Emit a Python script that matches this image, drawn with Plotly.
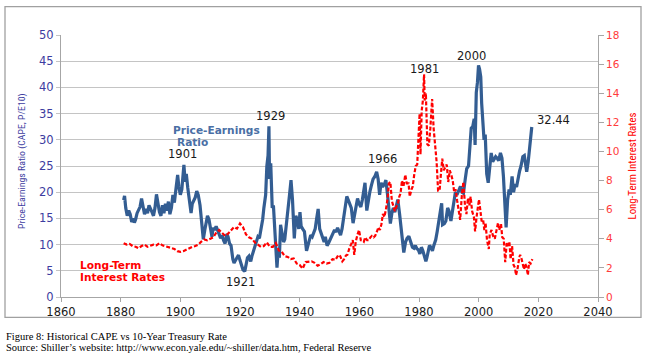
import plotly.graph_objects as go

# ---- data ----
cape_years = [
    1881.0, 1881.3, 1881.7, 1882.2, 1882.7, 1883.2, 1883.7, 1884.2, 1884.6, 1885.0,
    1885.5, 1886.0, 1886.5, 1887.0, 1887.5, 1888.0, 1888.5, 1889.0, 1889.5, 1890.0,
    1890.5, 1891.0, 1891.5, 1892.0, 1892.5, 1893.0, 1893.5, 1894.0, 1894.5, 1895.0,
    1895.5, 1896.0, 1896.5, 1897.0, 1897.5, 1898.0, 1898.5, 1899.1, 1899.5, 1900.0,
    1900.5, 1901.2, 1901.6, 1902.0, 1902.5, 1903.0, 1903.6, 1904.0, 1904.5, 1905.0,
    1905.5, 1906.0, 1906.6, 1907.2, 1907.7, 1908.2, 1908.7, 1909.1, 1909.6, 1910.1,
    1910.6, 1911.0, 1911.5, 1912.0, 1912.6, 1913.0, 1913.5, 1914.0, 1914.5, 1915.0,
    1915.6, 1916.0, 1916.5, 1917.0, 1917.6, 1918.0, 1918.5, 1919.0, 1919.5, 1920.0,
    1920.5, 1921.0, 1921.6, 1922.0, 1922.5, 1923.0, 1923.6, 1924.0, 1924.6, 1925.0,
    1925.6, 1926.0, 1926.5, 1927.0, 1927.6, 1928.0, 1928.6, 1929.0, 1929.4, 1929.7,
    1929.9, 1930.3, 1930.8, 1931.2, 1931.7, 1932.4, 1932.8, 1933.2, 1933.6, 1934.0,
    1934.6, 1935.0, 1935.6, 1936.0, 1936.6, 1937.1, 1937.6, 1938.2, 1938.7, 1939.2,
    1939.7, 1940.1, 1940.5, 1941.0, 1941.6, 1942.3, 1942.8, 1943.2, 1943.7, 1944.2,
    1944.7, 1945.2, 1945.7, 1946.2, 1946.7, 1947.2, 1947.7, 1948.2, 1948.6, 1949.2,
    1949.7, 1950.2, 1950.7, 1951.2, 1951.7, 1952.2, 1952.7, 1953.2, 1953.7, 1954.2,
    1954.7, 1955.2, 1955.8, 1956.3, 1956.8, 1957.3, 1957.9, 1958.4, 1958.9, 1959.4,
    1959.9, 1960.5, 1961.0, 1961.9, 1962.5, 1963.0, 1963.5, 1964.0, 1964.6, 1965.2,
    1965.8, 1966.3, 1966.8, 1967.3, 1967.8, 1968.4, 1968.9, 1969.4, 1970.0, 1970.4,
    1970.9, 1971.4, 1971.9, 1972.5, 1972.9, 1973.5, 1973.9, 1974.4, 1974.9, 1975.5,
    1976.0, 1976.6, 1977.2, 1977.8, 1978.3, 1978.8, 1979.3, 1979.8, 1980.3, 1980.8,
    1981.3, 1981.8, 1982.3, 1982.6, 1983.0, 1983.5, 1984.0, 1984.5, 1985.0, 1985.6,
    1986.1, 1986.6, 1987.2, 1987.6, 1987.9, 1988.5, 1989.0, 1989.6, 1990.0, 1990.7,
    1991.2, 1991.7, 1992.2, 1992.7, 1993.3, 1993.9, 1994.4, 1994.9, 1995.5, 1996.0,
    1996.6, 1997.0, 1997.5, 1998.0, 1998.5, 1998.8, 1999.2, 1999.6, 1999.95, 2000.3,
    2000.7, 2001.0, 2001.4, 2001.8, 2002.2, 2002.7, 2003.2, 2003.7, 2004.2, 2004.7,
    2005.2, 2005.7, 2006.2, 2006.7, 2007.3, 2007.8, 2008.3, 2008.8, 2009.2, 2009.7,
    2010.2, 2010.6, 2011.2, 2011.7, 2012.2, 2012.7, 2013.2, 2013.7, 2014.2, 2014.8,
    2015.3, 2015.7, 2016.1, 2016.6, 2017.0, 2017.5, 2017.8,
]
cape_values = [
    18.5, 19.3, 17.0, 15.5, 16.5, 15.8, 14.3, 15.0, 14.2, 14.8,
    16.0, 16.5, 17.2, 18.8, 16.8, 15.8, 16.8, 16.0, 17.5, 17.0,
    16.2, 15.5, 17.0, 19.6, 17.8, 16.2, 15.5, 17.5, 16.0, 17.8,
    16.5, 18.2, 15.8, 17.0, 19.5, 18.0, 20.5, 23.3, 21.0, 19.5,
    20.5, 25.2, 22.0, 23.5, 20.8, 19.0, 16.0, 17.8, 18.5, 19.0,
    20.2, 19.5, 17.5, 14.2, 11.0, 12.8, 14.5, 15.5, 14.8, 13.5,
    11.5, 13.2, 12.8, 13.5, 12.8, 12.0, 11.2, 11.8, 10.8, 10.2,
    12.0, 11.5, 10.2, 9.8, 7.2, 6.5, 7.0, 7.4, 8.0, 7.0,
    5.8, 5.2, 4.9, 6.2, 7.5, 7.8, 6.8, 7.8, 8.8, 9.8,
    10.8, 11.5, 11.2, 12.8, 14.8, 17.0, 19.5, 25.0, 27.0, 32.6,
    22.5, 25.5, 17.0, 17.5, 12.0, 5.6, 9.0, 7.5, 13.8, 12.5,
    10.5, 11.0, 14.5, 17.5, 19.5, 22.3, 18.5, 11.2, 15.5, 14.8,
    13.0, 16.2, 13.5, 13.0, 12.5, 8.8, 9.8, 11.0, 11.8, 11.5,
    12.5, 13.0, 15.0, 16.8, 13.0, 12.0, 11.5, 10.5, 11.5, 9.8,
    10.3, 11.0, 11.8, 12.5, 12.8, 12.4, 13.2, 12.5, 11.8, 13.0,
    15.0, 17.0, 19.2, 18.5, 17.8, 17.0, 14.1, 15.5, 17.5, 18.8,
    17.8, 17.2, 18.5, 21.8, 16.5, 18.8, 20.0, 21.2, 22.5, 23.0,
    23.9, 22.5, 19.5, 21.8, 21.0, 21.5, 22.3, 19.8, 16.8, 14.0,
    16.0, 17.0, 16.2, 17.8, 18.6, 15.8, 14.0, 11.2, 8.5, 10.5,
    11.2, 11.6, 10.5, 9.5, 9.3, 9.8, 9.2, 9.0, 8.2, 9.5,
    8.8, 7.6, 6.8, 7.4, 8.8, 9.8, 9.5, 8.8, 9.9, 10.9,
    12.5, 14.0, 16.5, 17.9, 13.8, 14.0, 14.5, 17.0, 16.5, 14.5,
    16.5, 17.5, 20.0, 19.5, 20.5, 21.1, 20.0, 19.8, 22.5, 24.5,
    25.0, 28.0, 32.2, 32.5, 34.0, 29.0, 39.0, 41.0, 44.2, 43.5,
    42.0, 37.0, 33.5, 30.0, 31.0, 23.5, 21.8, 25.5, 27.5, 25.8,
    26.5, 26.8, 26.5, 26.0, 27.5, 26.5, 23.0, 16.0, 13.3, 18.5,
    20.5, 19.5, 23.0, 20.0, 21.5, 21.0, 23.0, 24.0, 25.0, 26.8,
    27.0, 25.0, 23.9, 25.8, 28.0, 30.0, 32.44,
]

rate_years = [
    1881, 1882, 1883, 1884, 1885, 1886, 1887, 1888, 1889, 1890,
    1891, 1892, 1893, 1894, 1895, 1896, 1897, 1898, 1899, 1900,
    1901, 1902, 1903, 1904, 1905, 1906, 1907, 1908, 1909, 1910,
    1911, 1912, 1913, 1914, 1915, 1916, 1917, 1918, 1919, 1920,
    1921, 1922, 1923, 1924, 1925, 1926, 1927, 1928, 1929, 1930,
    1931, 1932, 1933, 1934, 1935, 1936, 1937, 1938, 1939, 1940,
    1941, 1942, 1943, 1944, 1945, 1946, 1947, 1948, 1949, 1950,
    1951, 1952, 1953, 1953.6, 1954.3, 1954.9, 1955.5, 1956.0, 1956.6, 1957.2,
    1957.8, 1958.3, 1958.8, 1959.4, 1959.9, 1960.5, 1961.0, 1961.5, 1962.0, 1962.6,
    1963.2, 1963.7, 1964.2, 1964.8, 1965.3, 1965.9, 1966.4, 1966.9, 1967.4, 1967.9,
    1968.4, 1968.9, 1969.5, 1969.9, 1970.4, 1970.9, 1971.4, 1971.9, 1972.4, 1972.9,
    1973.4, 1973.8, 1974.3, 1974.8, 1975.4, 1975.9, 1976.5, 1976.9, 1977.5, 1977.9,
    1978.4, 1978.9, 1979.4, 1979.8, 1980.2, 1980.5, 1980.9, 1981.3, 1981.7, 1981.9,
    1982.3, 1982.8, 1983.3, 1983.8, 1984.4, 1984.9, 1985.4, 1985.9, 1986.4, 1986.9,
    1987.4, 1987.8, 1988.3, 1988.8, 1989.3, 1989.8, 1990.3, 1990.8, 1991.3, 1991.8,
    1992.3, 1992.8, 1993.3, 1993.8, 1994.4, 1994.9, 1995.4, 1995.9, 1996.4, 1996.9,
    1997.3, 1997.8, 1998.4, 1998.8, 1999.3, 1999.9, 2000.1, 2000.6, 2001.0, 2001.5,
    2001.9, 2002.3, 2002.8, 2003.4, 2003.7, 2004.3, 2004.8, 2005.4, 2005.9, 2006.5,
    2006.9, 2007.5, 2007.9, 2008.4, 2008.9, 2009.4, 2009.9, 2010.3, 2010.7, 2011.2,
    2011.7, 2012.2, 2012.5, 2013.0, 2013.6, 2013.9, 2014.4, 2014.9, 2015.2, 2015.6,
    2016.1, 2016.5, 2016.9, 2017.4, 2017.8, 2018.0,
]
rate_values = [
    3.7, 3.6, 3.65, 3.5, 3.45, 3.35, 3.5, 3.6, 3.45, 3.55,
    3.6, 3.55, 3.7, 3.55, 3.5, 3.45, 3.35, 3.3, 3.15, 3.1,
    3.15, 3.25, 3.4, 3.45, 3.5, 3.6, 3.8, 3.95, 3.9, 4.0,
    4.1, 4.4, 4.6, 4.4, 4.2, 4.35, 4.6, 4.8, 4.7, 5.05,
    4.8, 4.3, 4.1, 4.0, 3.75, 3.6, 3.45, 3.5, 3.75, 3.45,
    3.45, 3.7, 3.2, 3.1, 2.8, 2.75, 2.6, 2.65, 2.3, 2.2,
    1.95, 2.4, 2.45, 2.45, 2.35, 2.15, 2.25, 2.4, 2.3, 2.35,
    2.6, 2.55, 2.9, 2.8, 2.45, 2.6, 2.85, 2.9, 3.3, 3.6,
    3.9, 2.9, 3.8, 4.3, 4.6, 3.9, 3.9, 3.8, 4.1, 3.9,
    3.9, 4.1, 4.2, 4.1, 4.2, 4.5, 4.8, 4.6, 5.0, 5.7,
    5.5, 6.0, 6.8, 7.8, 7.9, 6.6, 6.3, 5.9, 6.2, 6.4,
    6.9, 7.1, 8.0, 7.6, 8.4, 7.8, 7.8, 6.9, 7.4, 7.6,
    8.4, 9.0, 9.1, 10.6, 12.6, 9.8, 12.8, 13.5, 15.3, 13.5,
    14.0, 10.5, 10.4, 11.6, 13.6, 11.6, 10.5, 9.3, 7.3, 7.3,
    8.6, 9.5, 8.7, 8.9, 9.1, 7.9, 8.7, 8.4, 8.0, 7.2,
    7.4, 6.6, 5.9, 5.3, 7.1, 7.9, 6.3, 5.7, 6.8, 6.3,
    6.9, 5.9, 5.5, 4.5, 5.5, 6.3, 6.7, 5.9, 5.2, 5.3,
    4.6, 5.1, 3.9, 3.3, 4.3, 4.6, 4.2, 4.0, 4.5, 5.1,
    4.6, 5.0, 4.1, 4.0, 2.4, 3.7, 3.5, 3.8, 2.6, 3.5,
    2.2, 2.0, 1.5, 1.9, 2.7, 2.9, 2.6, 2.2, 1.9, 2.3,
    2.0, 1.5, 2.4, 2.3, 2.5, 2.6,
]

year_labels = ["1901", "1929", "1921", "1966", "1981", "2000", "32.44"]

# ---- layout geometry (pixels) ----
W, H = 663, 359
L, R, T, B = 61, 598, 34.5, 297.5


def px(x):
    return (x - L) / (R - L)


def py(y):
    return (B - y) / (B - T)


BLUE = "#335d92"
RED = "#ff0000"
TICKFONT = "DejaVu Sans, Verdana, sans-serif"
NARROW = "Liberation Sans Narrow, Arial Narrow, Roboto Condensed, Liberation Sans, sans-serif"

fig = go.Figure()
fig.add_trace(go.Scatter(x=rate_years, y=rate_values, yaxis="y2", mode="lines",
                         line=dict(color=RED, width=2.2, dash="4px,2px"),
                         name="Long-Term Interest Rates", showlegend=False))
fig.add_trace(go.Scatter(x=cape_years, y=cape_values, mode="lines",
                         line=dict(color=BLUE, width=3.2),
                         name="Price-Earnings Ratio", showlegend=False))

annos = []
# peak / trough labels
lab_pos = [(182, 154), (270, 116), (240.5, 282), (382, 159), (424, 68.5), (471.5, 56), (553.5, 120)]
for t, (x, y) in zip(year_labels, lab_pos):
    annos.append(dict(x=px(x), y=py(y), xref="paper", yref="paper", text=t, showarrow=False,
                      xanchor="center", yanchor="middle",
                      font=dict(family=TICKFONT, size=11.5, color="#1a1a1a")))
# series labels
annos += [
    dict(x=px(216.5), y=py(130), text="<b>Price-Earnings</b>", xanchor="center",
         font=dict(family=TICKFONT, size=10.6, color="#4a6fa5")),
    dict(x=px(192.5), y=py(142), text="<b>Ratio</b>", xanchor="center",
         font=dict(family=TICKFONT, size=10.6, color="#4a6fa5")),
    dict(x=px(78), y=py(265), text="<b>Long-Term</b>", xanchor="left",
         font=dict(family=TICKFONT, size=10.6, color=RED)),
    dict(x=px(78), y=py(277.5), text="<b>Interest Rates</b>", xanchor="left",
         font=dict(family=TICKFONT, size=10.6, color=RED)),
    # axis titles
    dict(x=px(22), y=py(161), text="Price-Earnings Ratio (CAPE, P/E10)", textangle=-90,
         xanchor="center", font=dict(family=NARROW, size=9.8, color="#3c3ca0")),
    dict(x=px(632), y=py(166.5), text="Long-Term Interest Rates", textangle=-90,
         xanchor="center", font=dict(family=NARROW, size=10.8, color=RED)),
    # caption
    dict(x=px(4), y=py(337.5), text="Figure 8: Historical CAPE vs 10-Year Treasury Rate",
         xanchor="left", font=dict(family="Liberation Serif, Times New Roman, serif", size=10.5, color="black")),
    dict(x=px(4), y=py(348.5),
         text="Source: Shiller\u2019s website: http://www.econ.yale.edu/~shiller/data.htm, Federal Reserve",
         xanchor="left", font=dict(family="Liberation Serif, Times New Roman, serif", size=10.5, color="black")),
]
for a in annos:
    a.setdefault("xref", "paper")
    a.setdefault("yref", "paper")
    a.setdefault("showarrow", False)
    a.setdefault("yanchor", "middle")

fig.update_layout(
    width=W, height=H,
    margin=dict(l=L, r=W - R, t=T, b=H - B),
    paper_bgcolor="white", plot_bgcolor="white",
    annotations=annos,
    xaxis=dict(range=[1860, 2040], tick0=1860, dtick=20, showgrid=False, zeroline=False,
               showline=True, linecolor="#a6a6a6", linewidth=1,
               ticks="outside", ticklen=4, tickcolor="#a6a6a6",
               tickfont=dict(family=TICKFONT, size=11.5, color="#1a1a1a")),
    yaxis=dict(range=[0, 50], dtick=5, showgrid=True, gridcolor="#c4c4c4", gridwidth=1,
               zeroline=False, showline=True, linecolor="#a6a6a6", linewidth=1,
               ticks="outside", ticklen=4, tickcolor="#c4c4c4",
               tickfont=dict(family=TICKFONT, size=11.5, color="#3c3ca0")),
    yaxis2=dict(range=[0, 18], dtick=2, overlaying="y", side="right", showgrid=False,
                zeroline=False, showline=True, linecolor="#a6a6a6", linewidth=1,
                ticks="outside", ticklen=5, tickcolor="#a6a6a6",
                tickfont=dict(family=TICKFONT, size=10.5, color="#ff3b3b")),
    shapes=[dict(type="rect", xref="paper", yref="paper",
                 x0=px(5), x1=px(641), y0=py(318), y1=py(6),
                 line=dict(color="#a0a0a0", width=1.3), fillcolor="rgba(0,0,0,0)", layer="above")],
)

fig.write_html("out.html", config={"displayModeBar": False},
               post_script="document.body.style.margin='0';document.body.style.padding='0';"
                           "document.documentElement.style.overflow='hidden';")
